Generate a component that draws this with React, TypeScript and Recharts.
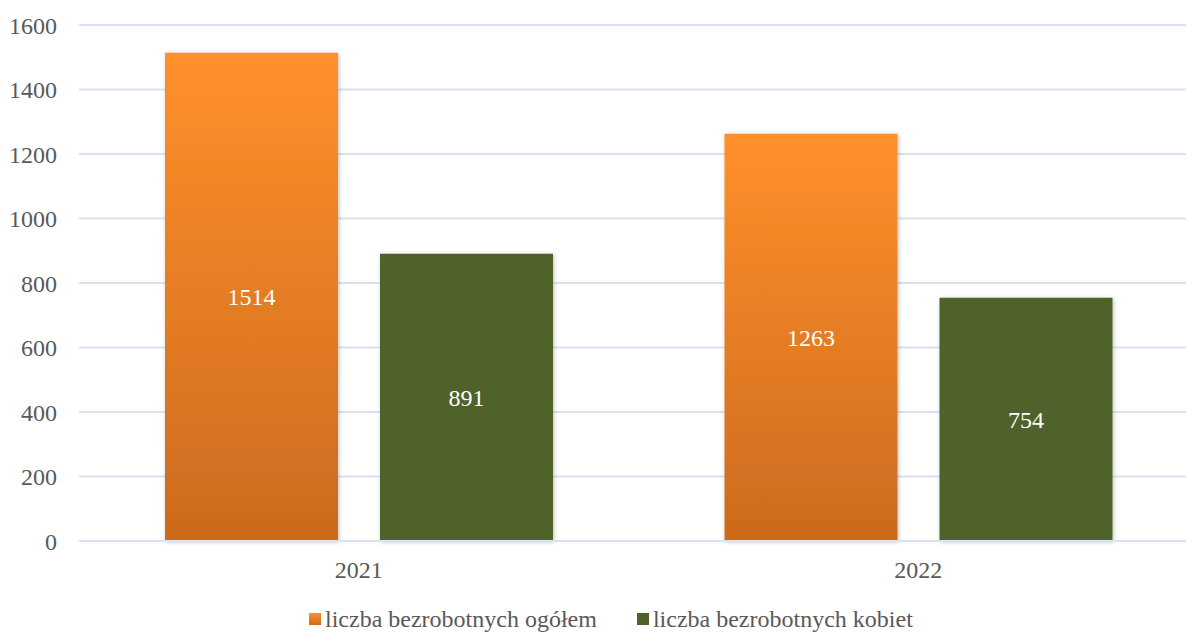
import * as React from "react";
import { BarChart, Bar, XAxis, YAxis, CartesianGrid, Legend, LabelList } from "recharts";

const YEARS = ["2021", "2022"];
const TOTAL = [1514, 1263];
const WOMEN = [891, 754];
const Y_TICKS = [0, 200, 400, 600, 800, 1000, 1200, 1400, 1600];

const SERIES_TOTAL = "liczba bezrobotnych ogółem";
const SERIES_WOMEN = "liczba bezrobotnych kobiet";

const data = YEARS.map((year, i) => ({ year, total: TOTAL[i], women: WOMEN[i] }));

const FONT = "Liberation Serif";
const TEXT = "#595959";
const FS = 24;

const LegendContent = () => (
  <div style={{ display: "flex", alignItems: "center", marginLeft: 309, paddingTop: 2, fontFamily: FONT, fontSize: FS, color: TEXT, lineHeight: "28px" }}>
    <span style={{ width: 12, height: 12, background: "linear-gradient(#FF902B, #CC6A1E)", marginRight: 4 }} />
    <span>{SERIES_TOTAL}</span>
    <span style={{ width: 12, height: 12, background: "#50622A", marginLeft: 40, marginRight: 4 }} />
    <span>{SERIES_WOMEN}</span>
  </div>
);

export default function App() {
  return (
    <div style={{ position: "absolute", left: 0, top: 0, width: 1186, height: 633, overflow: "hidden", background: "#fff" }}>
      <BarChart
        width={1198}
        height={633}
        data={data}
        margin={{ top: 25, right: 0, bottom: 0, left: 0 }}
        barSize={173}
        barGap={42}
      >
        <defs>
          <linearGradient id="orangeGrad" x1="0" y1="0" x2="0" y2="1">
            <stop offset="0%" stopColor="#FF902B" />
            <stop offset="100%" stopColor="#CC6A1E" />
          </linearGradient>
          <filter id="barShadow" x="-10%" y="-10%" width="120%" height="120%">
            <feDropShadow dx="1" dy="1" stdDeviation="2" floodColor="#000" floodOpacity="0.25" />
          </filter>
        </defs>
        <CartesianGrid vertical={false} stroke="#D9E2F1" strokeWidth={2} />
        <XAxis
          dataKey="year"
          height={62}
          axisLine={{ stroke: "#D9E2F1", strokeWidth: 2 }}
          tickLine={false}
          tickSize={0}
          tickMargin={20}
          tick={{ fill: TEXT, fontFamily: FONT, fontSize: FS }}
        />
        <YAxis
          width={79}
          domain={[0, 1600]}
          ticks={Y_TICKS}
          axisLine={false}
          tickLine={false}
          tickSize={0}
          tickMargin={22}
          tick={{ fill: TEXT, fontFamily: FONT, fontSize: FS }}
        />
        <Legend verticalAlign="bottom" height={30} content={<LegendContent />} />
        <Bar dataKey="total" name={SERIES_TOTAL} fill="url(#orangeGrad)" filter="url(#barShadow)" isAnimationActive={false}>
          <LabelList dataKey="total" position="center" fill="#fff" fontFamily={FONT} fontSize={FS} />
        </Bar>
        <Bar dataKey="women" name={SERIES_WOMEN} fill="#50622A" filter="url(#barShadow)" isAnimationActive={false}>
          <LabelList dataKey="women" position="center" fill="#fff" fontFamily={FONT} fontSize={FS} />
        </Bar>
      </BarChart>
    </div>
  );
}
